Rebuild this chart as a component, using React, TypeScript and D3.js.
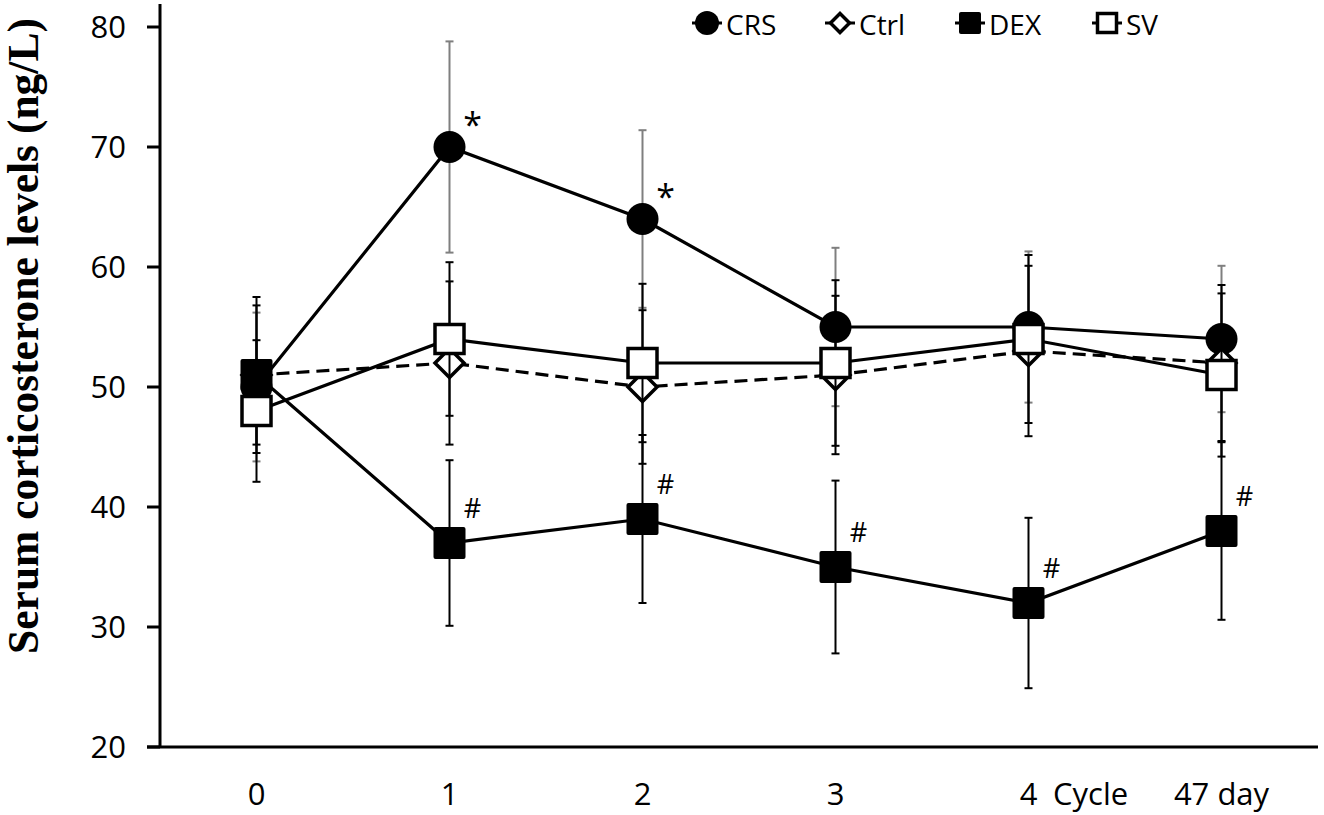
import React from 'react';
import * as d3 from 'd3';

const categories = ['0', '1', '2', '3', '4', '47 day'];
const crs = [50, 70, 64, 55, 55, 54];
const crsErr = [6.2, 8.8, 7.4, 6.6, 6.3, 6.1];
const ctrl = [51, 52, 50, 51, 53, 52];
const ctrlErr = [5.8, 6.8, 6.4, 6.6, 7.1, 6.5];
const dex = [51, 37, 39, 35, 32, 38];
const dexErr = [6.5, 6.9, 7.0, 7.2, 7.1, 7.4];
const sv = [48, 54, 52, 52, 54, 51];
const svErr = [5.9, 6.4, 6.6, 6.9, 7.0, 6.8];
const crsMarks = ['', '*', '*', '', '', ''];
const dexMarks = ['', '#', '#', '#', '#', '#'];

type Marker = 'circle' | 'diamond' | 'square' | 'openSquare';

const series: { name: string; values: number[]; err: number[]; marker: Marker; dashed: boolean; errColor: string }[] = [
  { name: 'CRS', values: crs, err: crsErr, marker: 'circle', dashed: false, errColor: '#7f7f7f' },
  { name: 'Ctrl', values: ctrl, err: ctrlErr, marker: 'diamond', dashed: true, errColor: '#000' },
  { name: 'DEX', values: dex, err: dexErr, marker: 'square', dashed: false, errColor: '#000' },
  { name: 'SV', values: sv, err: svErr, marker: 'openSquare', dashed: false, errColor: '#000' },
];

const W = 1324;
const H = 815;
const FONT = "'Open Sans', 'Liberation Sans', sans-serif";

const x = d3.scalePoint<string>().domain(categories).range([160, 1318]).padding(0.5);
const y = d3.scaleLinear().domain([20, 80]).range([747, 27]);

// marker shape at (cx, cy); s = half size
function drawMarker(m: Marker, cx: number, cy: number, s: number, key: string) {
  if (m === 'circle') return <circle key={key} cx={cx} cy={cy} r={s} fill="#000" />;
  if (m === 'square')
    return <rect key={key} x={cx - s} y={cy - s} width={2 * s} height={2 * s} rx={2} fill="#000" />;
  if (m === 'openSquare')
    return (
      <rect key={key} x={cx - s + 1.5} y={cy - s + 1.5} width={2 * s - 3} height={2 * s - 3}
        fill="#fff" stroke="#000" strokeWidth={3.5} />
    );
  const d = s - 1.5;
  return (
    <path key={key} d={`M${cx},${cy - d}L${cx + d},${cy}L${cx},${cy + d}L${cx - d},${cy}Z`}
      fill="#fff" stroke="#000" strokeWidth={3.5} strokeLinejoin="miter" />
  );
}

const App: React.FC = () => {
  const line = d3
    .line<number>()
    .x((_d, i) => x(categories[i]) as number)
    .y((d) => y(d));

  const legendX = [707, 840, 970, 1107];
  const yTicks = y.ticks(6);

  return (
    <svg width={W} height={H} viewBox={`0 0 ${W} ${H}`}
      style={{ position: 'absolute', left: 0, top: 0, background: '#fff' }}>
      <rect width={W} height={H} fill="#fff" />

      {/* y axis */}
      <line x1={160} x2={160} y1={4} y2={y(20)} stroke="#000" strokeWidth={3} />
      {yTicks.map((t) => (
        <g key={t}>
          <line x1={147} x2={160} y1={y(t)} y2={y(t)} stroke="#000" strokeWidth={3} />
          <text x={126} y={y(t)} dy="0.36em" textAnchor="end" fontFamily={FONT} fontSize={31}>
            {t}
          </text>
        </g>
      ))}
      {/* x axis */}
      <line x1={147} x2={1318} y1={y(20)} y2={y(20)} stroke="#000" strokeWidth={3} />
      {categories.map((c) => (
        <text key={c} x={x(c)} y={805} textAnchor="middle" fontFamily={FONT} fontSize={31}>
          {c}
        </text>
      ))}
      <text x={1053} y={805} fontFamily={FONT} fontSize={31}>Cycle</text>

      <text transform={`translate(38,336) rotate(-90)`} textAnchor="middle"
        fontFamily="'Liberation Serif', 'Times New Roman', serif" fontWeight="bold" fontSize={43.5}>
        Serum corticosterone levels (ng/L)
      </text>

      {/* series */}
      {series.map((s) => (
        <g key={s.name}>
          {s.values.map((v, i) => {
            const cx = x(categories[i]) as number;
            return (
              <g key={i} stroke={s.errColor} strokeWidth={2}>
                <line x1={cx} x2={cx} y1={y(v + s.err[i])} y2={y(v - s.err[i])} />
                <line x1={cx - 4} x2={cx + 4} y1={y(v + s.err[i])} y2={y(v + s.err[i])} />
                <line x1={cx - 4} x2={cx + 4} y1={y(v - s.err[i])} y2={y(v - s.err[i])} />
              </g>
            );
          })}
          <path d={line(s.values) || ''} fill="none" stroke="#000" strokeWidth={3.2}
            strokeDasharray={s.dashed ? '13,7' : undefined} />
          {s.values.map((v, i) =>
            drawMarker(s.marker, x(categories[i]) as number, y(v), 16, `m${i}`)
          )}
        </g>
      ))}

      {/* significance marks */}
      {crsMarks.map((m, i) =>
        m ? (
          <text key={`c${i}`} x={(x(categories[i]) as number) + 23} y={y(crs[i]) - 10}
            textAnchor="middle" fontFamily={FONT} fontSize={34}>{m}</text>
        ) : null
      )}
      {dexMarks.map((m, i) =>
        m ? (
          <text key={`d${i}`} x={(x(categories[i]) as number) + 23} y={y(dex[i]) - 25}
            textAnchor="middle" fontFamily={FONT} fontSize={27}>{m}</text>
        ) : null
      )}

      {/* legend */}
      {series.map((s, i) => (
        <g key={`lg${s.name}`}>
          <line x1={legendX[i] - 15} x2={legendX[i] + 15} y1={23} y2={23} stroke="#000" strokeWidth={3} />
          {drawMarker(s.marker, legendX[i], 23, s.marker === 'circle' ? 12 : 11, `lm${i}`)}
          <text x={legendX[i] + 19} y={35} fontFamily={FONT} fontSize={28}>{s.name}</text>
        </g>
      ))}
    </svg>
  );
};

export default App;
